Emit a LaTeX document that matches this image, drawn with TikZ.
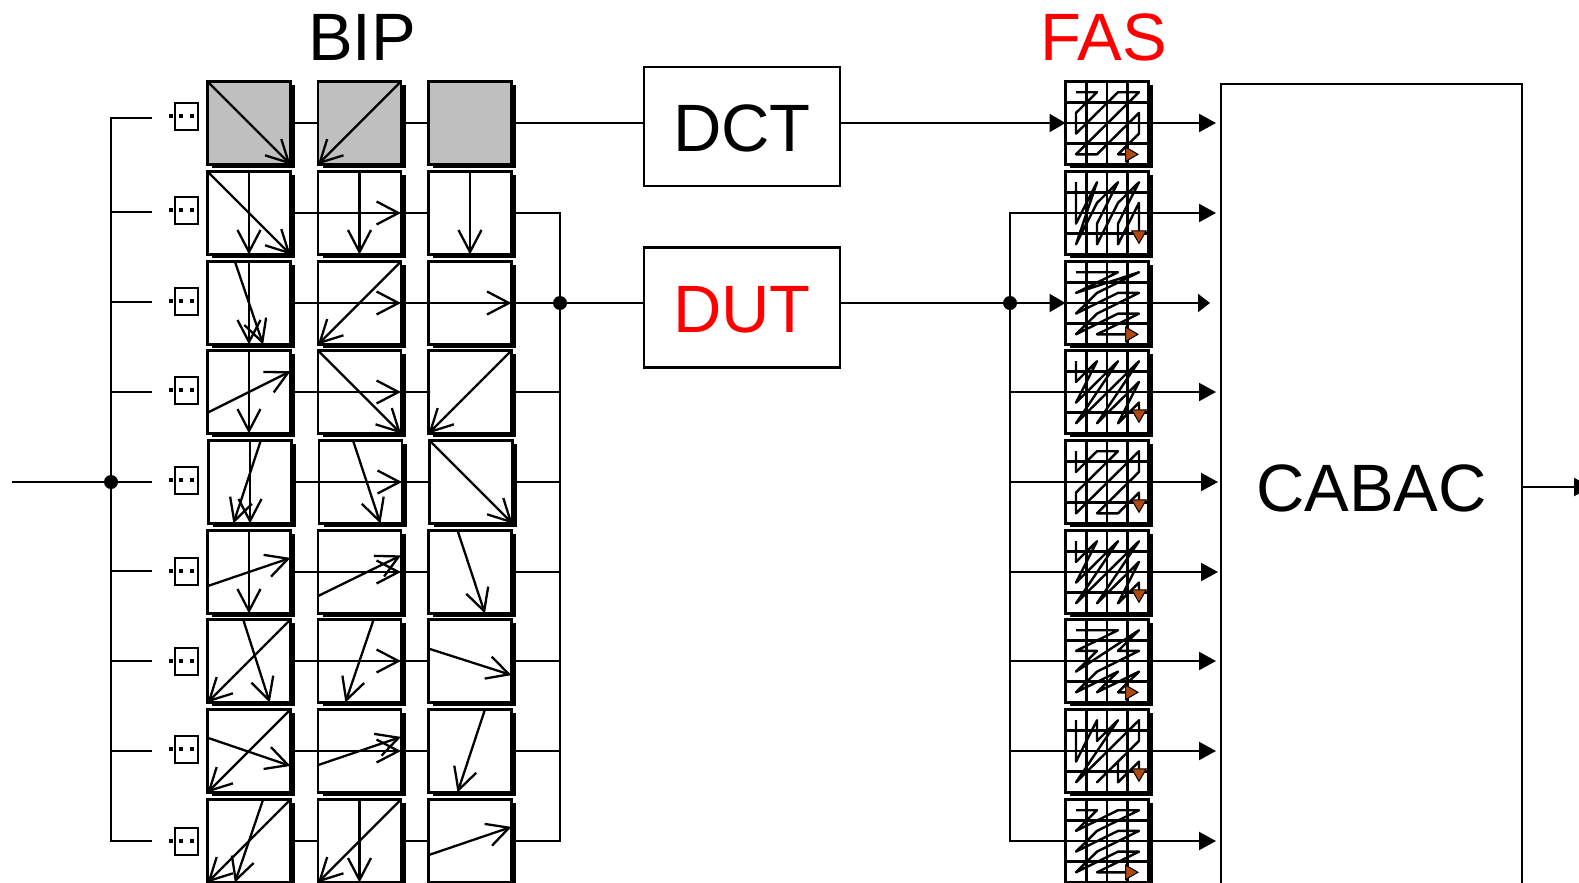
\documentclass[tikz,border=0pt]{standalone}
\usepackage{fontspec}
\setmainfont{Liberation Sans}
\usetikzlibrary{arrows.meta,shadows,calc}
\definecolor{blockgrey}{HTML}{BFBFBF}
\definecolor{scanbrown}{HTML}{B04A10}
\tikzset{
  wire/.style={line width=2.2pt,black},
  fat/.style={wire,-{Triangle[length=#1,width=18pt]}},
  fat/.default=17pt,
  blockbox/.style={draw=black,line width=2.9pt,fill=white,minimum width=83pt,minimum height=83pt,
    inner sep=0pt,outer sep=0pt,anchor=north west,
    drop shadow={shadow xshift=4.5pt,shadow yshift=-3.5pt,fill=black,opacity=1}},
  predarrow/.style={line width=2.3pt,-{Straight Barb[length=22pt,width=23pt,line width=2.3pt]}},
  scanline/.style={line width=2.4pt,line join=round,
    -{Triangle[length=14pt,width=16pt,line width=1pt,fill=scanbrown]}},
  procbox/.style={draw=black,line width=2.1pt,fill=white,inner sep=0pt,outer sep=0pt,
    font=\fontsize{67}{70}\selectfont,text height=50pt,text depth=0pt},
  title/.style={font=\fontsize{67}{70}\selectfont,inner sep=0pt},
  joint/.style={circle,fill=black,inner sep=0pt,minimum size=#1},
  icon/.style={draw=black,line width=2pt,fill=white,minimum width=23pt,minimum height=27pt,inner sep=0pt,outer sep=0pt},
  dotmark/.style={fill=black,inner sep=0pt,minimum size=3.6pt},
}
\newcommand{\inblk}[2]{\begin{scope}[x=83pt,y=-83pt,shift={(#1.north west)}]#2\end{scope}}
\newcommand{\ar}[4]{\draw[predarrow] (#1,#2) -- (#3,#4);}
\newcommand{\aD}{\ar{.5}{0}{.5}{1}}
\newcommand{\aR}{\ar{0}{.5}{1}{.5}}
\newcommand{\aDR}{\ar{0}{0}{1}{1}}
\newcommand{\aDL}{\ar{1}{0}{0}{1}}
% scan-order grid
\newcommand{\fasgrid}[3]{%
  \node[blockbox] (#1) at (1065.5,#2) {};
  \begin{scope}[x=83pt,y=-83pt,shift={(#1.north west)}]
    \foreach \g in {.25,.5,.75} {\draw[line width=2.6pt] (\g,0) -- (\g,1); \draw[line width=2.6pt] (0,\g) -- (1,\g);}
  \end{scope}
  \begin{scope}[shift={(#1.north west)},xshift=10.5pt,yshift=-10.7pt,x=21pt,y=-20.7pt]
    \draw[scanline] #3;
  \end{scope}}
\begin{document}
\begin{tikzpicture}[x=1pt,y=-1pt]
\useasboundingbox (0,0) rectangle (1579,883);
\clip (0,0) rectangle (1579,883);
\fill[white] (0,0) rectangle (1579,883);

% titles
\node[title] (bip) at (362,37) {BIP};
\node[title,text=red] (fas) at (1103.5,37) {FAS};

% prediction blocks
\foreach \r/\t/\dx in {0/81.5/0,1/171.5/0,2/261.5/0,3/350.5/0,4/440.5/1,5/530.5/0,6/619.5/0,7/709.5/0,8/799.5/0}{
  \foreach \c/\x in {0/207.5,1/318,2/428.5}{
    \ifnum\r=0
      \node[blockbox,fill=blockgrey] (b\r\c) at (\x+\dx,\t) {};
    \else
      \node[blockbox] (b\r\c) at (\x+\dx,\t) {};
    \fi
  }
}
\inblk{b00}{\aDR}
\inblk{b01}{\aDL}
\inblk{b10}{\aD\aDR}
\inblk{b11}{\aR\aD}
\inblk{b12}{\aD}
\inblk{b20}{\aD\ar{.33}{0}{.67}{1}}
\inblk{b21}{\aR\aDL}
\inblk{b22}{\aR}
\inblk{b30}{\aD\ar{0}{.75}{1}{.25}}
\inblk{b31}{\aR\aDR}
\inblk{b32}{\aDL}
\inblk{b40}{\aD\ar{.63}{0}{.3}{1}}
\inblk{b41}{\aR\ar{.41}{0}{.74}{1}}
\inblk{b42}{\aDR}
\inblk{b50}{\aD\ar{0}{.67}{1}{.33}}
\inblk{b51}{\aR\ar{0}{.79}{1}{.3}}
\inblk{b52}{\ar{.35}{0}{.68}{1}}
\inblk{b60}{\aDL\ar{.43}{0}{.75}{1}}
\inblk{b61}{\aR\ar{.67}{0}{.33}{1}}
\inblk{b62}{\ar{0}{.35}{1}{.67}}
\inblk{b70}{\aDL\ar{0}{.34}{1}{.68}}
\inblk{b71}{\aR\ar{0}{.67}{1}{.33}}
\inblk{b72}{\ar{.68}{0}{.35}{1}}
\inblk{b80}{\aDL\ar{.67}{0}{.33}{1}}
\inblk{b81}{\aD\aDL}
\inblk{b82}{\ar{0}{.67}{1}{.33}}

% connectors between blocks
\foreach \r in {0,...,8}{
  \draw[wire] (b\r0.east) -- (b\r1.west);
  \draw[wire] (b\r1.east) -- (b\r2.west);
}

% icons and input bus
\foreach \r/\y/\ly in {0/116/118,1/210/212,2/301/302,3/390/392,4/480/482,5/571/571,6/661/661,7/749/751,8/841/841}{
  \node[icon] (i\r) at (186.5,\y) {};
  \node[dotmark] (da\r) at (171,\y) {};
  \node[dotmark] (db\r) at (181,\y) {};
  \node[dotmark] (dc\r) at (192,\y) {};
  \coordinate (s\r) at (152,\ly);
}
\coordinate (input) at (12,482);
\node[joint=14pt] (jin) at (111,482) {};
\draw[wire] (input) -- (jin) -- (s4);
\draw[wire] (s0) -| (jin);
\draw[wire] (s8) -| (jin);
\foreach \r in {1,2,3,5,6,7}{\draw[wire] (s\r -| jin) -- (s\r);}

% DCT, DUT
\node[procbox,minimum width=196pt,minimum height=119pt] (dct) at (742,126.5) {DCT};
\node[procbox,minimum width=196pt,minimum height=120pt,text=red] (dut) at (742,307.5) {DUT};
\draw[wire] (b02.east) -- (b02.east -| dct.west);
\node[joint=14pt] (jl) at (560,303) {};
\node[joint=14pt] (jr) at (1010,303) {};
\draw[wire] (b12.east) -| (jl);
\draw[wire] (b82.east) -| (jl);
\draw[wire] (b22.east) -- (jl);
\foreach \r in {3,4,5,6,7}{\draw[wire] (b\r2.east) -- (b\r2.east -| jl);}
\draw[wire] (jl) -- (jl -| dut.west);
\draw[wire] (dut.east |- jr) -- (jr);

% scan grids
\fasgrid{f0}{81.5}{(0,0)--(1,0)--(0,1)--(0,2)--(1,1)--(2,0)--(3,0)--(2,1)--(1,2)--(0,3)--(1,3)--(2,2)--(3,1)--(3,2)--(2,3)--(3,3)}
\fasgrid{f1}{171.5}{(0,0)--(0,1)--(0,2)--(1,0)--(0,3)--(1,1)--(2,0)--(1,2)--(1,3)--(2,1)--(3,0)--(2,2)--(2,3)--(3,1)--(3,2)--(3,3)}
\fasgrid{f2}{261.5}{(0,0)--(1,0)--(2,0)--(0,1)--(3,0)--(1,1)--(0,2)--(2,1)--(3,1)--(1,2)--(0,3)--(2,2)--(3,2)--(1,3)--(2,3)--(3,3)}
\fasgrid{f3}{350.5}{(0,0)--(0,1)--(1,0)--(0,2)--(1,1)--(2,0)--(0,3)--(1,2)--(2,1)--(3,0)--(1,3)--(2,2)--(3,1)--(2,3)--(3,2)--(3,3)}
\fasgrid{f4}{440.5}{(0,0)--(0,1)--(1,0)--(2,0)--(1,1)--(0,2)--(0,3)--(1,2)--(2,1)--(3,0)--(3,1)--(2,2)--(1,3)--(2,3)--(3,2)--(3,3)}
\fasgrid{f5}{530.5}{(0,0)--(0,1)--(1,0)--(0,2)--(1,1)--(2,0)--(0,3)--(1,2)--(2,1)--(3,0)--(1,3)--(2,2)--(3,1)--(2,3)--(3,2)--(3,3)}
\fasgrid{f6}{619.5}{(0,0)--(2,0)--(0,1)--(1,1)--(0,2)--(3,0)--(2,1)--(3,1)--(1,2)--(0,3)--(2,2)--(1,3)--(3,2)--(2,3)--(3,3)}
\fasgrid{f7}{709.5}{(0,0)--(0,2)--(1,0)--(1,1)--(2,0)--(0,3)--(1,2)--(2,1)--(3,0)--(3,1)--(1,3)--(2,2)--(2,3)--(3,2)--(3,3)}
\fasgrid{f8}{799.5}{(0,0)--(1,0)--(0,1)--(2,0)--(3,0)--(1,1)--(0,2)--(2,1)--(3,1)--(1,2)--(0,3)--(2,2)--(3,2)--(1,3)--(2,3)--(3,3)}

% into the grids
\draw[fat=16pt] (dct.east |- f0.west) -- (f0.west);
\draw[fat=16pt] (jr) -- (f2.west);
\draw[wire] (jr) |- (f1.west);
\draw[wire] (jr) |- (f8.west);
\foreach \r in {3,4,5,6,7}{\draw[wire] (f\r.west -| jr) -- (f\r.west);}

% CABAC
\node[procbox,text height=48pt,minimum width=301pt,minimum height=806pt] (cabac) at (1371.5,487) {CABAC};
\coordinate (out) at (1591,487);
\draw[fat] (cabac.east) -- (out);

% out of the grids
\foreach \r/\tip/\len in {0/1216/17,1/1216/17,2/1210/12,3/1216/17,4/1218/17,5/1218/17,6/1216/17,7/1216/17,8/1216/17}{
  \coordinate (o\r) at (\tip,0);
  \draw[fat=\len pt] (f\r.east) -- (f\r.east -| o\r);
}
\end{tikzpicture}
\end{document}
